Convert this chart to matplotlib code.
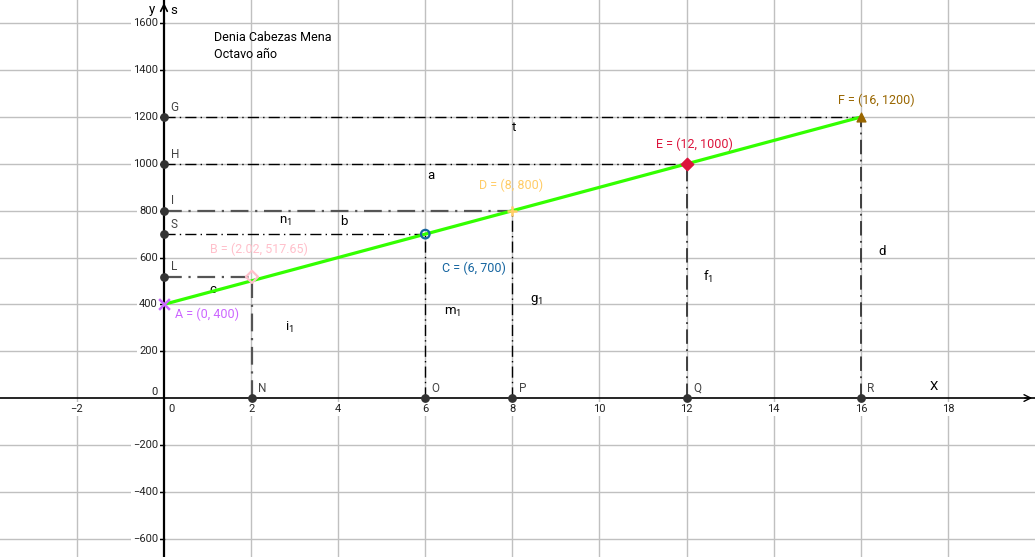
import matplotlib
matplotlib.use("Agg")
import matplotlib.pyplot as plt

plt.rcParams['font.family'] = ['Roboto', 'DejaVu Sans']

# view window (GeoGebra graphics view)
x_min, x_max = -3.765, 20.0
y_min, y_max = -679, 1700

x_ticks = [-2, 2, 4, 6, 8, 10, 12, 14, 16, 18]
y_ticks = [-600, -400, -200, 200, 400, 600, 800, 1000, 1200, 1400, 1600]

# main points on the segment
pt_names = ['A', 'B', 'C', 'D', 'E', 'F']
pt_x = [0, 2.02, 6, 8, 12, 16]
pt_y = [400, 517.65, 700, 800, 1000, 1200]
pt_colors = ['#cc66ff', '#ffc0cb', '#1565a0', '#ffcc66', '#dc143c', '#996600']
pt_markers = ['x', 'D', 'o', '+', 'D', '^']
pt_filled = [True, False, False, True, True, True]
pt_text = ['A = (0, 400)', 'B = (2.02, 517.65)', 'C = (6, 700)',
           'D = (8, 800)', 'E = (12, 1000)', 'F = (16, 1200)']
pt_label_xy = [(0.25, 359), (1.06, 636), (6.38, 555), (7.23, 909), (11.29, 1085), (15.47, 1272)]

# projections on the axes
ax_names = ['G', 'H', 'I', 'S', 'L', 'N', 'O', 'P', 'Q', 'R']
ax_px = [0, 0, 0, 0, 0, 2.02, 6, 8, 12, 16]
ax_py = [1200, 1000, 800, 700, 517.65, 0, 0, 0, 0, 0]

# dash-dot guides: (x0, y0, x1, y1, color)
h_guides = [(0, 1200, 16, 1200, 'black'), (0, 1000, 12, 1000, 'black'),
            (0, 800, 8, 800, '#555555'), (0, 700, 6, 700, 'black'),
            (0, 517.65, 2.02, 517.65, '#555555')]
v_guides = [(2.02, 0, 2.02, 517.65, '#555555'), (6, 0, 6, 700, 'black'),
            (8, 0, 8, 800, 'black'), (12, 0, 12, 1000, '#333333'),
            (16, 0, 16, 1200, '#333333')]
guide_widths = [1.0, 1.0, 1.6, 1.0, 1.6, 1.6, 1.0, 1.0, 1.3, 1.3]

# object names shown in the view
obj_names = ['t', 'a', 'b', 'n', 'c', 'i', 'm', 'g', 'f', 'd']
obj_subs = ['', '', '', '1', '', '1', '1', '1', '1', '']
obj_x = [8.0, 6.05, 4.05, 2.65, 1.05, 2.78, 6.42, 8.4, 12.38, 16.4]
obj_y = [1155, 950, 752, 755, 465, 300, 365, 418, 518, 625]

fig = plt.figure(figsize=(10.35, 5.57), dpi=100)
ax = fig.add_axes([0, 0, 1, 1])
ax.set_xlim(x_min, x_max)
ax.set_ylim(y_min, y_max)
ax.axis('off')

# grid
for gx in x_ticks:
    ax.axvline(gx, color='#c0c0c0', lw=1, zorder=0)
for gy in y_ticks:
    ax.axhline(gy, color='#c0c0c0', lw=1, zorder=0)

# axes with arrow heads
ax.axhline(0, color='black', lw=1.2, zorder=1)
ax.axvline(0, color='black', lw=1.6, zorder=1)
ax.annotate('', xy=(x_max, 0), xytext=(x_max - 0.3, 0),
            arrowprops=dict(arrowstyle='->', color='black', lw=1.0, mutation_scale=12))
ax.annotate('', xy=(0, y_max), xytext=(0, y_max - 30),
            arrowprops=dict(arrowstyle='->', color='black', lw=1.2, mutation_scale=12))

# tick labels
for tx in x_ticks:
    ax.text(tx, -48, '\u2212' + str(-tx) if tx < 0 else str(tx), ha='center', va='center',
            fontsize=8, color='#222222',
            bbox=dict(facecolor='white', edgecolor='none', pad=1.5), zorder=3)
ax.text(0.18, -48, '0', ha='center', va='center', fontsize=8, color='#222222')
for ty in y_ticks:
    ax.plot([-0.15, 0], [ty, ty], color='black', lw=1, zorder=2)
    ax.text(-0.14, ty, '\u2212' + str(-ty) if ty < 0 else str(ty), ha='right', va='center',
            fontsize=8, color='#222222',
            bbox=dict(facecolor='white', edgecolor='none', pad=1.5), zorder=3)
ax.text(-0.14, 25, '0', ha='right', va='center', fontsize=8, color='#222222')
ax.text(17.68, 50, 'X', ha='center', va='center', fontsize=9.5)
ax.text(-0.28, 1660, 'y', ha='center', va='center', fontsize=9.5)
ax.text(0.23, 1657, 's', ha='center', va='center', fontsize=9.5)

# dash-dot guides
for (x0, y0, x1, y1, col), w in zip(h_guides + v_guides, guide_widths):
    ax.plot([x0, x1], [y0, y1], color=col, lw=w, ls=(0, (8, 3, 1, 3)), zorder=3)

# green segment A-F
ax.plot([pt_x[0], pt_x[-1]], [pt_y[0], pt_y[-1]], color='#33ff00', lw=2.3, zorder=4)

# axis projection points
ax.scatter(ax_px, ax_py, s=28, color='#333333', zorder=5)
for name, px, py in zip(ax_names, ax_px, ax_py):
    ax.text(px + 0.15, py + 42, name, ha='left', va='center', fontsize=8.5, color='#444444')

# segment points
for x, y, col, mk, filled, txt, (lx, ly) in zip(pt_x, pt_y, pt_colors, pt_markers,
                                              pt_filled, pt_text, pt_label_xy):
    if mk in ('x', '+'):
        ax.scatter([x], [y], marker=mk, s=60, color=col, linewidths=1.8, zorder=6)
    elif filled:
        ax.scatter([x], [y], marker=mk, s=40, color=col, zorder=6)
    else:
        ax.scatter([x], [y], marker=mk, s=38, facecolor='none', edgecolor=col,
                   linewidths=1.6, zorder=6)
    ax.text(lx, ly, txt, ha='left', va='center', fontsize=9, color=col, zorder=7)

# object names
for name, sub, ox, oy in zip(obj_names, obj_subs, obj_x, obj_y):
    label = name if not sub else '$\\mathregular{' + name + '_' + sub + '}$'
    ax.text(ox, oy, label, ha='left', va='center', fontsize=9.5, color='black')

# author text
ax.text(1.15, 1541, 'Denia Cabezas Mena', ha='left', va='center', fontsize=9)
ax.text(1.15, 1469, 'Octavo año', ha='left', va='center', fontsize=9)

fig.savefig('out.png', dpi=100)
